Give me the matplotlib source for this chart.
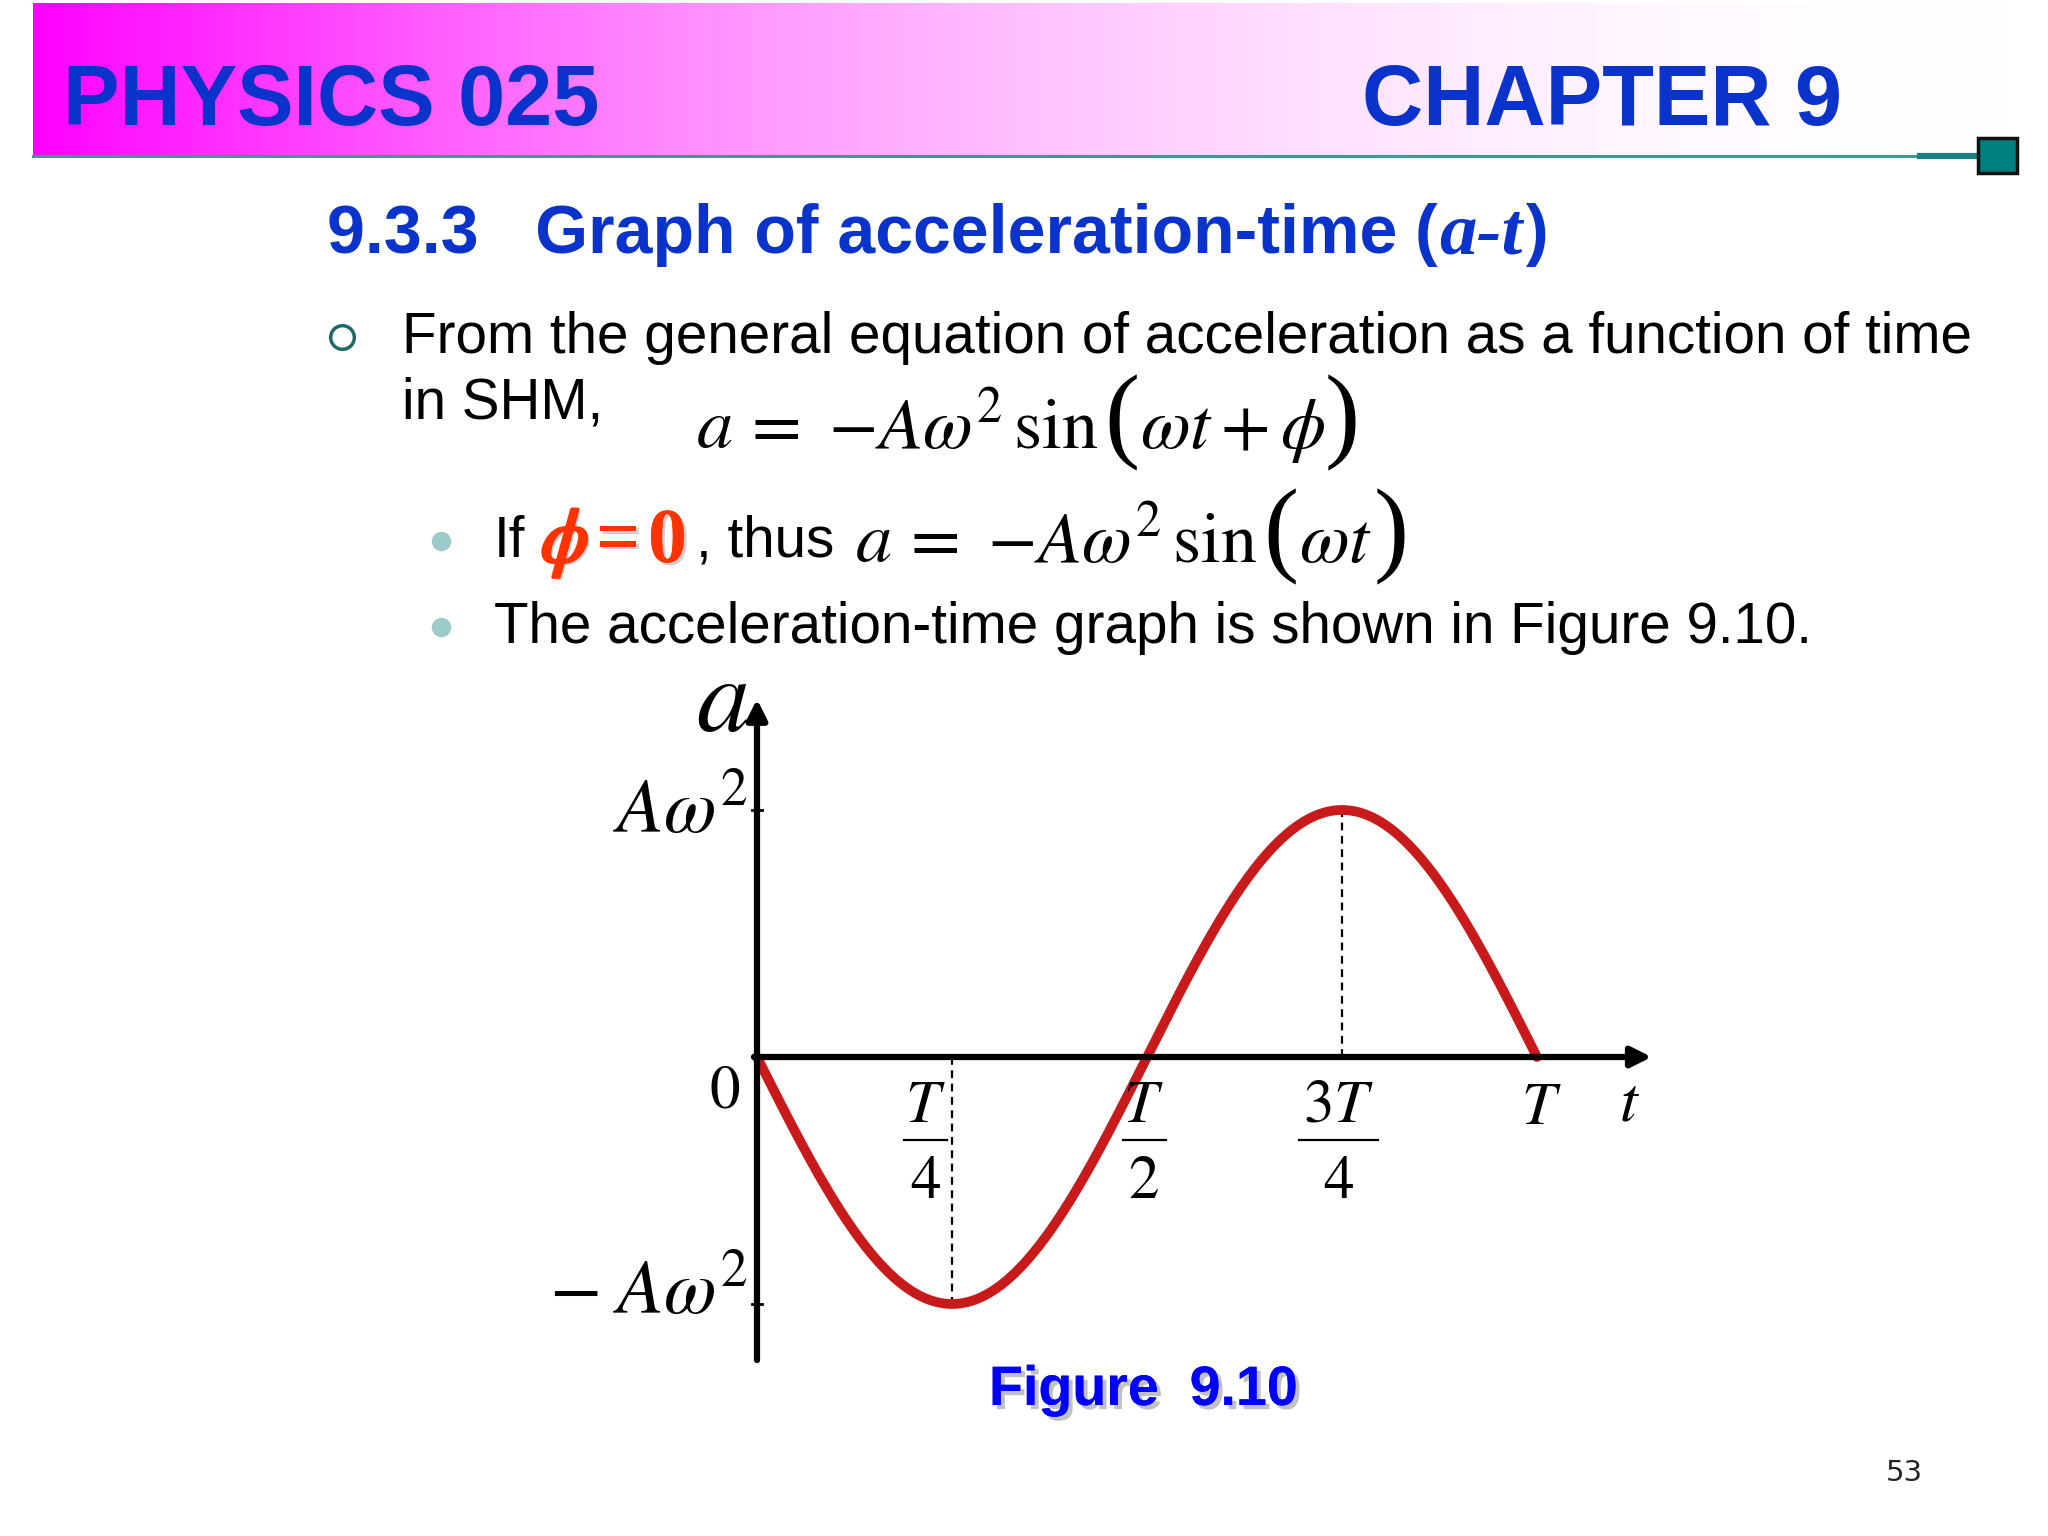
import numpy as np
import matplotlib
matplotlib.use("Agg")
import matplotlib.pyplot as plt
import matplotlib.patheffects as pe
from matplotlib.patches import Rectangle

plt.rcParams['mathtext.fontset'] = 'stix'
plt.rcParams['font.family'] = ['Liberation Sans', 'DejaVu Sans']

# chart content
period = 1.0          # T
amp = 1.0             # A*omega^2
t_ticks = [0.25, 0.5, 0.75]
t_tick_num = [r'$T$', r'$T$', r'$3T$']
t_tick_den = [r'$4$', r'$2$', r'$4$']
t_tick_xc = [0.216, 0.495, 0.746]
t_tick_bar = [(0.188, 0.244), (0.469, 0.524), (0.695, 0.796)]
dash_ranges = [(0.25, 0.0, -1.0), (0.75, 0.0, 1.0)]

BLUE = '#0a33cc'
RED = '#c81a1a'
ORANGE = '#ff3300'

fig = plt.figure(figsize=(20.48, 15.36), dpi=100)
renderer = fig.canvas.get_renderer()

# slide background in pixel coords
bg = fig.add_axes([0, 0, 1, 1])
bg.set_xlim(0, 2048)
bg.set_ylim(1536, 0)
bg.axis('off')


def run(x, y, parts):
    # place text pieces one after the other on a common baseline
    for s, kw, gap in parts:
        t = bg.text(x, y, s, va='baseline', ha='left', **kw)
        x += t.get_window_extent(renderer).width + gap
    return x


# header gradient magenta -> white
p = np.linspace(0, 1, 600)
w = 1 - (1 - p) ** 2
grad = np.zeros((1, 600, 3))
grad[0, :, 0] = 1.0
grad[0, :, 1] = w
grad[0, :, 2] = 1.0
bg.imshow(grad, extent=[33, 2010, 156, 3], aspect='auto', zorder=0)
bg.plot([33, 1922], [156, 156], color='#3a9a9a', lw=2.2, zorder=1)
bg.plot([1920, 1980], [156, 156], color='#1a7f7f', lw=4.5, zorder=1)
bg.add_patch(Rectangle((1978, 138), 39, 35, facecolor='#008080',
                       edgecolor='#111111', lw=2.5, zorder=2))

bg.text(63, 103, 'PHYSICS 025', fontsize=61, fontweight='bold', color=BLUE,
        va='center', ha='left')
bg.text(1362, 103, 'CHAPTER 9', fontsize=61, fontweight='bold', color=BLUE,
        va='center', ha='left')

# section title
run(327, 253, [
    ('9.3.3   Graph of acceleration-time', dict(fontsize=49, fontweight='bold', color=BLUE), 17),
    ('(', dict(fontsize=49, fontweight='bold', color=BLUE), 2),
    ('a-t', dict(fontsize=54, fontweight='bold', style='italic',
                 family='Liberation Serif', color=BLUE), 4),
    (')', dict(fontsize=49, fontweight='bold', color=BLUE), 0),
])

# first bullet
bg.plot(342, 337, 'o', ms=17, mfc='none', mec='#1f6a64', mew=2.5)
bg.text(402, 338, 'From the general equation of acceleration as a function of time',
        fontsize=40.8, va='center', ha='left')
bg.text(402, 404, 'in SHM,', fontsize=40.8, va='center', ha='left')

eq = dict(fontsize=52)
paren = dict(fontsize=76, family='Liberation Serif', color='k')
run(696, 448, [
    (r'$a\,=\,\,{-}A\omega^2\,\mathrm{sin}$', eq, 6),
    ('(', paren, 0),
    (r'$\omega t+\phi$', eq, 0),
    (')', paren, 0),
])

# sub bullets
for yb in (541, 627):
    bg.plot(441, yb, 'o', ms=14, color='#9ccbc9', mec='none')
bg.text(494, 542, 'If', fontsize=40.8, va='center', ha='left')
shadow = [pe.withSimplePatchShadow(offset=(2, -2), shadow_rgbFace='#b0b0b0', alpha=0.6),
          pe.Normal()]
bold_phi = [pe.withSimplePatchShadow(offset=(2, -2), shadow_rgbFace='#b0b0b0', alpha=0.6),
            pe.withStroke(linewidth=2.5, foreground=ORANGE)]
bg.text(541, 562, r'$\phi$', fontsize=55, color=ORANGE, path_effects=bold_phi,
        va='baseline', ha='left')
bg.text(596, 562, '=', fontsize=56, fontweight='bold', family='Liberation Serif',
        color=ORANGE, path_effects=shadow, va='baseline', ha='left')
bg.text(648, 562, '0', fontsize=56, fontweight='bold', family='Liberation Serif',
        color=ORANGE, path_effects=shadow, va='baseline', ha='left')
bg.text(696, 542, ', thus', fontsize=40.8, va='center', ha='left')
run(855, 562, [
    (r'$a\,=\,\,{-}A\omega^2\,\mathrm{sin}$', eq, 6),
    ('(', paren, 0),
    (r'$\omega t$', eq, 2),
    (')', paren, 0),
])
bg.text(494, 628, 'The acceleration-time graph is shown in Figure 9.10.',
        fontsize=40.8, va='center', ha='left')

# caption and page number
bg.text(989, 1391, 'Figure  9.10', fontsize=40, fontweight='bold', color='#0000ff',
        va='center', ha='left',
        path_effects=[pe.withSimplePatchShadow(offset=(3, -3), shadow_rgbFace='#999999', alpha=0.6),
                      pe.Normal()])
bg.text(1904, 1473, '53', fontsize=21, color='#222222', va='center', ha='center',
        family='DejaVu Sans')

# graph axes: t=0 at x 757 px, t=T at 1537 px; a=+1 at 810 px, a=-1 at 1304 px
ax = fig.add_axes([757 / 2048, (1536 - 1304) / 1536, 780 / 2048, 494 / 1536])
ax.set_xlim(0, period)
ax.set_ylim(-amp, amp)
ax.axis('off')
ax.patch.set_alpha(0)

t = np.linspace(0, period, 500)
a = -amp * np.sin(2 * np.pi * t / period)
ax.plot(t, a, color=RED, lw=7, solid_capstyle='round', clip_on=False, zorder=3)

for xd, y0, y1 in dash_ranges:
    ax.plot([xd, xd], [y0, y1], color='k', lw=1.6, ls=(0, (3.5, 2.5)),
            clip_on=False, zorder=2)

arrow = dict(arrowstyle='-|>', lw=4.5, color='k', mutation_scale=30,
             shrinkA=0, shrinkB=0)
ax.annotate('', xy=(1.147, 0), xytext=(-0.004, 0), arrowprops=arrow,
            annotation_clip=False, zorder=4)
ax.annotate('', xy=(0, 1.449), xytext=(0, -1.227), arrowprops=arrow,
            annotation_clip=False, zorder=4)
for yt in (amp, -amp):
    ax.plot([-0.006, 0.006], [yt, yt], color='k', lw=2, clip_on=False, zorder=4)

for xc, (b0, b1), num, den in zip(t_tick_xc, t_tick_bar, t_tick_num, t_tick_den):
    ax.text(xc, -0.20, num, fontsize=44, ha='center', va='center')
    ax.plot([b0, b1], [-0.335, -0.335], color='k', lw=1.6, clip_on=False)
    ax.text(xc, -0.51, den, fontsize=44, ha='center', va='center')
ax.text(1.005, -0.21, r'$T$', fontsize=44, ha='center', va='center')
ax.text(1.119, -0.19, r'$t$', fontsize=46, ha='center', va='center')
ax.text(-0.041, -0.14, r'$0$', fontsize=44, ha='center', va='center')
ax.text(-0.012, 0.99, r'$A\omega^2$', fontsize=55, ha='right', va='center')
ax.text(-0.012, -0.96, r'$-\;A\omega^2$', fontsize=55, ha='right', va='center')
ax.text(-0.045, 1.43, r'$a$', fontsize=76, ha='center', va='center')

fig.savefig('out.png', dpi=100)
